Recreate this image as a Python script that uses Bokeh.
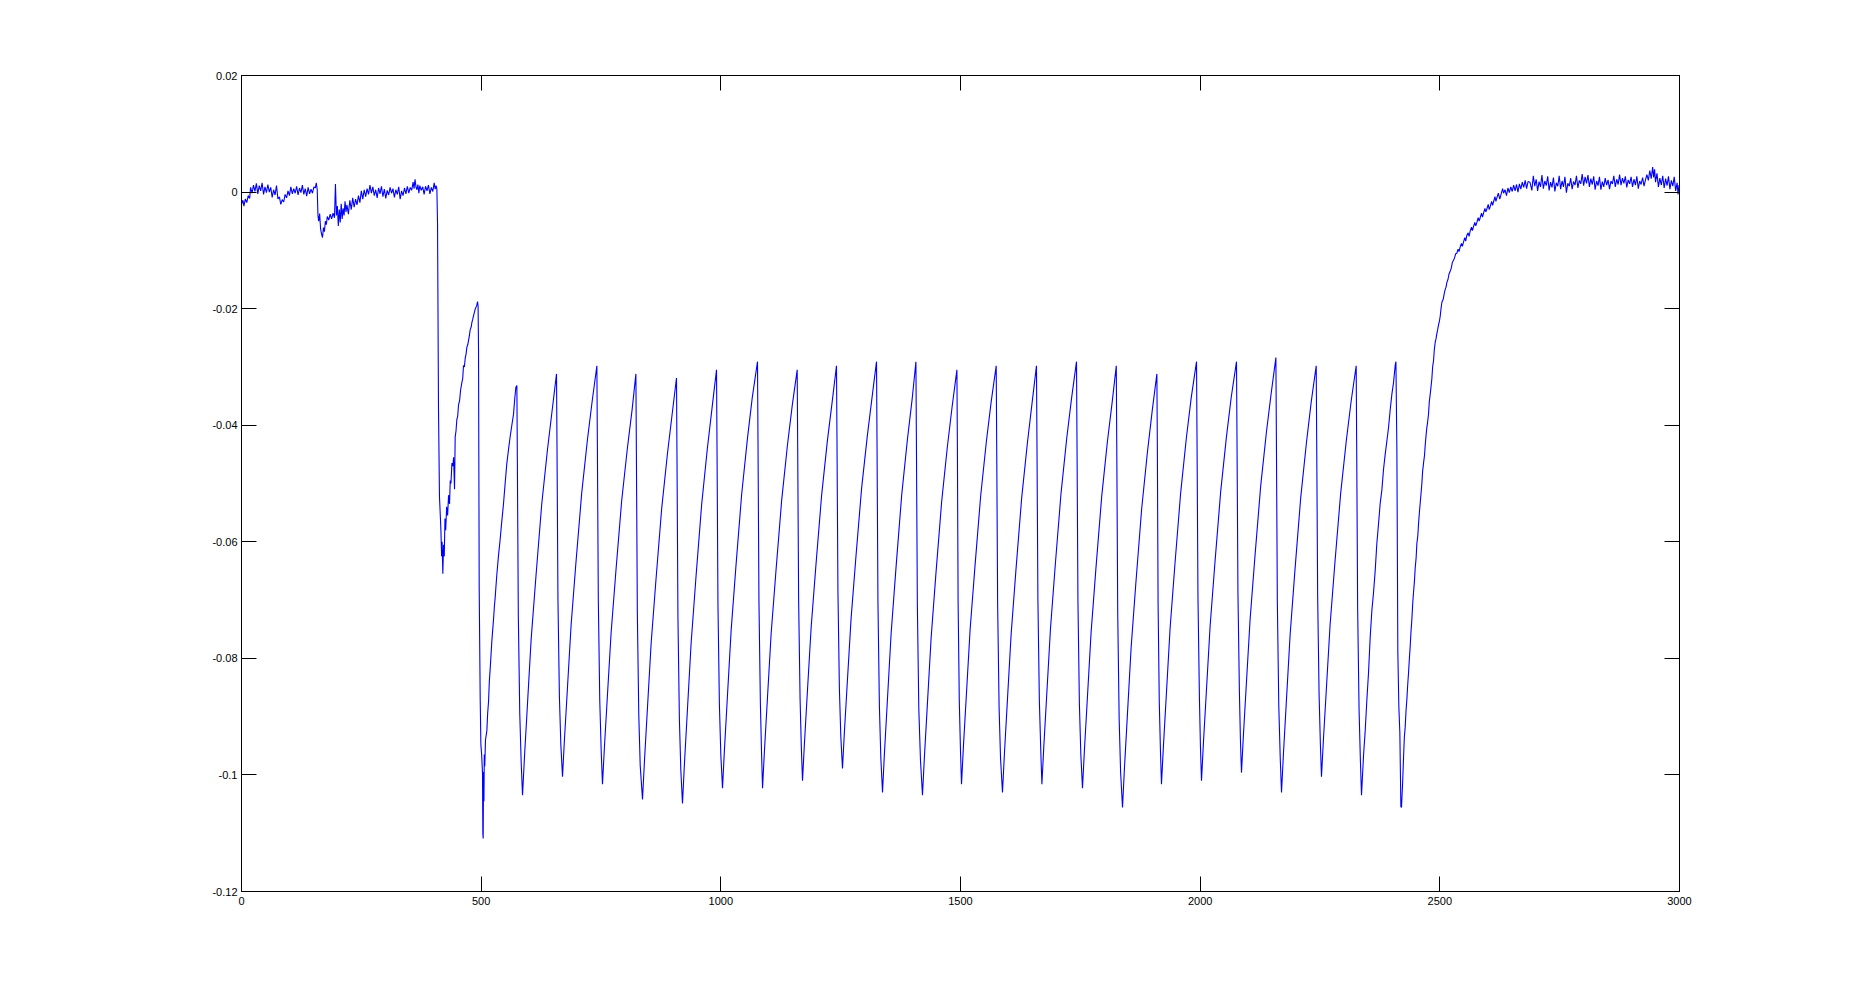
from bokeh.plotting import figure
from bokeh.models import Range1d, FixedTicker, LinearAxis, CustomJSTickFormatter
from bokeh.embed import file_html
from bokeh.resources import INLINE

# ---- data ----
x_ticks = [0, 500, 1000, 1500, 2000, 2500, 3000]
y_ticks = [-0.12, -0.1, -0.08, -0.06, -0.04, -0.02, 0, 0.02]

# baseline before the stimulation (noisy, with a small dip near x=160)
pre_x = [0, 3, 5, 8, 11, 14, 17, 19, 22, 25, 28, 31, 34, 37, 40, 43, 46, 49, 52, 55, 58, 61, 64, 67, 70, 73, 76, 79,
         82, 85, 88, 91, 94, 97, 100, 103, 106, 109, 112, 115, 118, 121, 124, 127, 130, 133, 136, 139, 142, 145, 148,
         151, 154, 156, 158, 159.5, 161, 163, 165, 167, 169, 171, 173, 175, 177, 179, 182, 185, 188, 191, 194, 196,
         198, 200, 202, 204, 206, 208, 210, 212, 214, 216, 218, 220, 223, 226, 229, 232, 235, 238, 241, 244, 247, 250,
         253, 256, 259, 262, 265, 268, 271, 274, 277, 280, 283, 286, 289, 292, 295, 298, 301, 304, 307, 310, 313, 316,
         319, 322, 325, 328, 331, 334, 337, 340, 343, 346, 349, 352, 355, 358, 360, 362, 364, 366, 368, 370, 372, 375,
         378, 381, 384, 387, 390, 393, 396, 399, 402, 404, 406, 407.6]
pre_y = [-0.0021, -0.0014, -0.0024, -0.0012, -0.0018, -0.0006, -0.0011, 0.0008, -0.0002, 0.0012, 0.0001, 0.0015,
         -0.0003, 0.0011, 0.0002, 0.0016, -0.0004, 0.0009, -0.0001, 0.0013, 0.0000, 0.0008, -0.0009, 0.0004, -0.0005,
         0.0011, -0.0012, -0.0008, -0.0021, -0.0013, -0.0017, -0.0004, -0.0010, 0.0002, -0.0006, 0.0009, -0.0003,
         0.0006, -0.0002, 0.0010, -0.0005, 0.0007, -0.0001, 0.0012, -0.0004, 0.0006, -0.0007, 0.0008, -0.0003, 0.0005,
         -0.0002, 0.0009, 0.0007, 0.0016, 0.0004, -0.0040, -0.0050, -0.0037, -0.0063, -0.0072, -0.0078, -0.0061,
         -0.0068, -0.0050, -0.0056, -0.0042, -0.0048, -0.0038, -0.0046, -0.0036, -0.0044, 0.0014, -0.0040, -0.0024,
         -0.0058, -0.0030, -0.0052, -0.0020, -0.0046, -0.0028, -0.0040, -0.0016, -0.0034, -0.0022, -0.0038, -0.0014,
         -0.0030, -0.0010, -0.0026, -0.0012, -0.0022, -0.0006, -0.0018, 0.0002, -0.0012, 0.0004, -0.0008, 0.0006,
         -0.0004, 0.0012, -0.0002, 0.0009, -0.0006, 0.0004, -0.0010, 0.0007, -0.0003, 0.0010, -0.0008, 0.0005,
         -0.0011, 0.0003, -0.0005, 0.0008, -0.0002, 0.0006, -0.0009, 0.0004, -0.0004, 0.0009, -0.0012, 0.0002,
         -0.0006, 0.0007, -0.0003, 0.0010, -0.0002, 0.0008, 0.0003, 0.0017, 0.0006, 0.0022, 0.0009, 0.0004, 0.0013,
         -0.0002, 0.0011, 0.0003, 0.0009, -0.0004, 0.0010, 0.0002, 0.0012, -0.0003, 0.0008, 0.0001, 0.0016, 0.0005,
         0.0011, 0.0005]

# onset: first drop, first slow recovery hump and the deepest trough
onset_x = [409, 411, 413, 415, 416, 417.5, 418.5, 420, 421.5, 423, 424.5, 426, 428, 430, 432, 434, 435.5, 437, 439,
           441, 442.5, 444.4, 445.8, 447.5, 449.3, 451, 452.8, 455, 457, 459.7, 461.5, 463.2, 465, 466.7, 468.5,
           470.2, 472, 473.6, 475.5, 477.1, 479, 480.6, 482.5, 484.1, 486, 487.5, 489.5, 491, 492.5, 493.6, 494.5,
           495.9, 498, 499.4, 501, 502.8, 503.5, 504.2, 505, 505.8, 506.5, 507.5, 509, 511.9, 513.5, 515.4, 517,
           518.8, 520.5, 522.3, 524, 525.8, 527.5, 529.3, 531, 532.7, 536, 539.7, 543, 546.7, 550, 553.6, 557, 560.6,
           564, 567.5, 570, 572.4, 574.5]
onset_y = [-0.0055, -0.0373, -0.0522, -0.0560, -0.0580, -0.0625, -0.0600, -0.0655, -0.0605, -0.0625, -0.0560,
           -0.0580, -0.0540, -0.0555, -0.0520, -0.0535, -0.0495, -0.0500, -0.0465, -0.0470, -0.0455, -0.0510,
           -0.0420, -0.0410, -0.0390, -0.0385, -0.0365, -0.0358, -0.0340, -0.0327, -0.0320, -0.0297, -0.0300,
           -0.0285, -0.0278, -0.0266, -0.0262, -0.0255, -0.0246, -0.0236, -0.0232, -0.0224, -0.0218, -0.0212,
           -0.0206, -0.0201, -0.0197, -0.0194, -0.0188, -0.0196, -0.0270, -0.0680, -0.0871, -0.0948, -0.0965,
           -0.0997, -0.1100, -0.1109, -0.0995, -0.1045, -0.0965, -0.0985, -0.0940, -0.0924, -0.0895, -0.0874,
           -0.0840, -0.0818, -0.0795, -0.0770, -0.0752, -0.0733, -0.0712, -0.0695, -0.0675, -0.0656, -0.0625,
           -0.0595, -0.0565, -0.0534, -0.0500, -0.0465, -0.0442, -0.0419, -0.0400, -0.0381, -0.0355, -0.0335,
           -0.0332]

# sawtooth: each line = drop from a peak to its trough, then the rise to the next peak
saw_x = [
    575.5, 577.5, 580.5, 583.5, 586.3, 590.3, 596.3, 604.3, 614.3, 626.3, 638.3, 648.3, 657.2,
    658.2, 660.2, 663.2, 666.2, 669.7, 673.7, 679.7, 687.7, 697.7, 709.7, 721.7, 731.7, 741.4,
    742.4, 744.4, 747.4, 750.4, 753.1, 757.1, 763.1, 771.1, 781.1, 793.1, 805.1, 815.1, 822.8,
    823.8, 825.8, 828.8, 831.8, 836.6, 840.6, 846.6, 854.6, 864.6, 876.6, 888.6, 898.6, 907.5,
    908.5, 910.5, 913.5, 916.5, 920.0, 924.0, 930.0, 938.0, 948.0, 960.0, 972.0, 982.0, 991.0,
    992, 994, 997, 1000, 1003.5, 1007.5, 1013.5, 1021.5, 1031.5, 1043.5, 1055.5, 1065.5, 1076.5,
    1077.5, 1079.5, 1082.5, 1085, 1087, 1091, 1097, 1105, 1115, 1127, 1139, 1149, 1159.3,
    1160.3, 1162.3, 1165.3, 1168.0, 1170.4, 1174.4, 1180.4, 1188.4, 1198.4, 1210.4, 1222.4, 1232.4, 1241.3,
    1242.3, 1244.3, 1247.3, 1250.3, 1253.8, 1257.8, 1263.8, 1271.8, 1281.8, 1293.8, 1305.8, 1315.8, 1324.8,
    1325.8, 1327.8, 1330.8, 1333.8, 1337.3, 1341.3, 1347.3, 1355.3, 1365.3, 1377.3, 1389.3, 1399.3, 1407.0,
    1408, 1410, 1413, 1416.5, 1420.7, 1424.7, 1430.7, 1438.7, 1448.7, 1460.7, 1472.7, 1482.7, 1492.5,
    1493.5, 1495.0, 1497.5, 1500.0, 1502.1, 1506.1, 1512.1, 1520.1, 1530.1, 1542.1, 1554.1, 1564.1, 1574.5,
    1575.5, 1577.5, 1580.5, 1583.5, 1587.6, 1591.6, 1597.6, 1605.6, 1615.6, 1627.6, 1639.6, 1649.6, 1658.5,
    1659.5, 1661.5, 1664.5, 1667.5, 1669.8, 1673.8, 1679.8, 1687.8, 1697.8, 1709.8, 1721.8, 1731.8, 1742.0,
    1743, 1745, 1748, 1751, 1754.5, 1758.5, 1764.5, 1772.5, 1782.5, 1794.5, 1806.5, 1816.5, 1825,
    1826, 1828, 1831, 1834, 1838, 1842, 1848, 1856, 1866, 1878, 1890, 1900, 1909.7,
    1910.7, 1912.2, 1914.7, 1917.2, 1919.3, 1923.3, 1929.3, 1937.3, 1947.3, 1959.3, 1971.3, 1981.3, 1992.4,
    1993.4, 1995.4, 1998.4, 2000.6, 2002.8, 2006.8, 2012.8, 2020.8, 2030.8, 2042.8, 2054.8, 2064.8, 2075.8,
    2076.8, 2078.8, 2081.8, 2084.0, 2086.2, 2090.2, 2096.2, 2104.2, 2114.2, 2126.2, 2138.2, 2148.2, 2158.0,
    2159, 2161, 2164, 2167, 2169.7, 2173.7, 2179.7, 2187.7, 2197.7, 2209.7, 2221.7, 2231.7, 2242.1,
    2243.1, 2245.1, 2248.1, 2250.8, 2253.1, 2257.1, 2263.1, 2271.1, 2281.1, 2293.1, 2305.1, 2315.1, 2325.5,
    2326.5, 2328.5, 2331.5, 2334.3, 2336.6, 2340.8, 2344.3, 2347.8, 2351.2, 2354.7, 2358.2, 2361.7, 2365.2,
    2368.6, 2372.1, 2375.6, 2379.1, 2382.5, 2386.0, 2389.5, 2393.0, 2396.5, 2399.9, 2403.4, 2406.9, 2408.4,
    2410.4, 2412.4, 2414.5, 2416.6, 2418.7, 2420.0,
]
saw_y = [
    -0.0459, -0.0726, -0.0894, -0.0979, -0.1035, -0.0970, -0.0883, -0.0767, -0.0659, -0.0536, -0.0442, -0.0373, -0.0312,
    -0.0436, -0.0699, -0.0865, -0.0948, -0.1003, -0.0940, -0.0855, -0.0742, -0.0636, -0.0517, -0.0425, -0.0358, -0.0298,
    -0.0427, -0.0700, -0.0872, -0.0959, -0.1016, -0.0953, -0.0868, -0.0756, -0.0650, -0.0530, -0.0439, -0.0372, -0.0312,
    -0.0443, -0.0721, -0.0896, -0.0984, -0.1042, -0.0977, -0.0890, -0.0774, -0.0666, -0.0543, -0.0449, -0.0380, -0.0319,
    -0.0450, -0.0728, -0.0903, -0.0991, -0.1049, -0.0982, -0.0893, -0.0774, -0.0662, -0.0536, -0.0439, -0.0368, -0.0305,
    -0.0434, -0.0707, -0.0879, -0.0966, -0.1023, -0.0957, -0.0869, -0.0752, -0.0642, -0.0518, -0.0423, -0.0353, -0.0291,
    -0.0423, -0.0701, -0.0877, -0.0964, -0.1023, -0.0958, -0.0872, -0.0757, -0.0650, -0.0528, -0.0434, -0.0366, -0.0305,
    -0.0432, -0.0700, -0.0869, -0.0954, -0.1010, -0.0946, -0.0860, -0.0747, -0.0640, -0.0519, -0.0426, -0.0359, -0.0298,
    -0.0422, -0.0685, -0.0851, -0.0934, -0.0989, -0.0926, -0.0842, -0.0731, -0.0626, -0.0507, -0.0417, -0.0350, -0.0291,
    -0.0424, -0.0705, -0.0882, -0.0971, -0.1030, -0.0963, -0.0875, -0.0757, -0.0646, -0.0520, -0.0424, -0.0354, -0.0291,
    -0.0425, -0.0708, -0.0886, -0.0975, -0.1035, -0.0969, -0.0882, -0.0765, -0.0655, -0.0531, -0.0436, -0.0367, -0.0305,
    -0.0433, -0.0703, -0.0874, -0.0959, -0.1016, -0.0951, -0.0865, -0.0750, -0.0643, -0.0521, -0.0427, -0.0359, -0.0298,
    -0.0430, -0.0708, -0.0884, -0.0971, -0.1030, -0.0964, -0.0876, -0.0759, -0.0649, -0.0525, -0.0430, -0.0360, -0.0298,
    -0.0427, -0.0700, -0.0872, -0.0959, -0.1016, -0.0951, -0.0864, -0.0748, -0.0639, -0.0516, -0.0421, -0.0353, -0.0291,
    -0.0423, -0.0701, -0.0877, -0.0964, -0.1023, -0.0958, -0.0871, -0.0755, -0.0646, -0.0523, -0.0428, -0.0360, -0.0298,
    -0.0434, -0.0722, -0.0904, -0.0995, -0.1056, -0.0989, -0.0900, -0.0781, -0.0669, -0.0543, -0.0446, -0.0375, -0.0312,
    -0.0439, -0.0706, -0.0875, -0.0960, -0.1016, -0.0951, -0.0864, -0.0748, -0.0639, -0.0516, -0.0421, -0.0353, -0.0291,
    -0.0420, -0.0694, -0.0866, -0.0952, -0.1010, -0.0945, -0.0859, -0.0744, -0.0636, -0.0514, -0.0420, -0.0352, -0.0291,
    -0.0418, -0.0686, -0.0855, -0.0940, -0.0996, -0.0932, -0.0846, -0.0733, -0.0626, -0.0505, -0.0412, -0.0345, -0.0284,
    -0.0418, -0.0702, -0.0881, -0.0970, -0.1030, -0.0964, -0.0876, -0.0759, -0.0649, -0.0525, -0.0430, -0.0360, -0.0298,
    -0.0425, -0.0693, -0.0862, -0.0947, -0.1003, -0.0940, -0.0855, -0.0742, -0.0636, -0.0517, -0.0425, -0.0358, -0.0298,
    -0.0431, -0.0711, -0.0888, -0.0976, -0.1035, -0.0967, -0.0924, -0.0871, -0.0825, -0.0764, -0.0718, -0.0687, -0.0649,
    -0.0603, -0.0569, -0.0534, -0.0511, -0.0476, -0.0450, -0.0427, -0.0404, -0.0373, -0.0347, -0.0327, -0.0297, -0.0291,
    -0.0442, -0.0790, -0.0883, -0.0928, -0.1054, -0.1056,
]

# recovery after the last trough
recov_x = [2422.2, 2424.3, 2426, 2427.7, 2429.5, 2431.2, 2433, 2434.7, 2436.5, 2438.2, 2440, 2441.6, 2443.5, 2445.1,
           2447, 2448.6, 2450.5, 2452.1, 2454, 2455.6, 2457.5, 2459, 2461, 2462.5, 2464, 2466, 2468, 2469.5, 2471,
           2472.9, 2474.5, 2476.4, 2478, 2479.9, 2481.5, 2483.4, 2485, 2486.9, 2488.5, 2490.3, 2492, 2493.8, 2495.5,
           2497.3, 2499, 2500.8, 2502.5, 2504.3, 2507, 2509, 2511.2, 2513, 2514.7, 2517, 2519, 2521.6, 2524, 2526,
           2528.6, 2531, 2533, 2535.5, 2538, 2540, 2542.5, 2545, 2547, 2549.4, 2552, 2554, 2556.4, 2559, 2561, 2563.3,
           2566, 2568, 2570.3, 2573, 2575, 2577.3, 2580, 2582, 2584.2, 2587, 2589, 2591.2, 2594, 2596, 2598.1, 2601,
           2603, 2605.1, 2608, 2610, 2612, 2615, 2617, 2619, 2622, 2625, 2628, 2631, 2633, 2636, 2639, 2642, 2645,
           2648, 2651, 2654, 2657, 2660, 2663, 2666, 2669, 2672, 2675, 2678, 2681, 2684]
recov_y = [-0.1017, -0.0970, -0.0935, -0.0918, -0.0890, -0.0871, -0.0845, -0.0825, -0.0800, -0.0779, -0.0752,
           -0.0734, -0.0705, -0.0687, -0.0668, -0.0645, -0.0628, -0.0603, -0.0590, -0.0569, -0.0548, -0.0534,
           -0.0515, -0.0500, -0.0480, -0.0465, -0.0452, -0.0434, -0.0420, -0.0404, -0.0395, -0.0381, -0.0360,
           -0.0347, -0.0335, -0.0320, -0.0300, -0.0289, -0.0270, -0.0258, -0.0252, -0.0243, -0.0236, -0.0228,
           -0.0222, -0.0213, -0.0200, -0.0189, -0.0184, -0.0175, -0.0167, -0.0163, -0.0155, -0.0150, -0.0141,
           -0.0136, -0.0130, -0.0121, -0.0117, -0.0112, -0.0106, -0.0105, -0.0098, -0.0102, -0.0094, -0.0088,
           -0.0093, -0.0086, -0.0078, -0.0084, -0.0074, -0.0070, -0.0076, -0.0067, -0.0060, -0.0066, -0.0059,
           -0.0052, -0.0058, -0.0052, -0.0044, -0.0050, -0.0044, -0.0036, -0.0043, -0.0036, -0.0028, -0.0034,
           -0.0029, -0.0021, -0.0030, -0.0025, -0.0016, -0.0023, -0.0017, -0.0008, -0.0016, -0.0010, -0.0002,
           -0.0012, -0.0003, 0.0006, -0.0002, 0.0004, -0.0006, 0.0007, -0.0001, 0.0009, 0.0001, 0.0012, 0.0002,
           0.0013, 0.0000, 0.0014, 0.0005, 0.0017, 0.0008, 0.0020, 0.0006, 0.0018]

# final plateau
post_x = [2688, 2692, 2695, 2698, 2701, 2704, 2707, 2710, 2713, 2716, 2719, 2722, 2725, 2728, 2731, 2734, 2737,
          2740, 2743, 2746, 2749, 2752, 2755, 2758, 2761, 2764, 2767, 2770, 2773, 2776, 2779, 2782, 2785, 2788,
          2791, 2794, 2797, 2800, 2803, 2806, 2809, 2812, 2815, 2818, 2821, 2824, 2827, 2830, 2833, 2836, 2839,
          2842, 2845, 2848, 2851, 2854, 2857, 2860, 2863, 2866, 2869, 2872, 2875, 2878, 2881, 2884, 2887, 2890,
          2893, 2896, 2899, 2902, 2905, 2908, 2911, 2914, 2917, 2920, 2923, 2926, 2929, 2932, 2935, 2938, 2941,
          2944, 2946, 2948, 2950, 2953, 2956, 2959, 2962, 2965, 2968, 2971, 2974, 2977, 2980, 2983, 2986, 2989,
          2992, 2995, 2997, 2999, 3000]
post_y = [0.0017, 0.0003, 0.0028, 0.0010, 0.0022, 0.0002, 0.0018, 0.0009, 0.0029, 0.0006, 0.0019, 0.0011, 0.0027,
          0.0003, 0.0017, 0.0008, 0.0025, 0.0001, 0.0016, 0.0010, 0.0028, 0.0005, 0.0019, 0.0009, 0.0026, -0.0001,
          0.0015, 0.0010, 0.0024, 0.0005, 0.0018, 0.0012, 0.0028, 0.0007, 0.0020, 0.0014, 0.0031, 0.0011, 0.0026,
          0.0015, 0.0029, 0.0009, 0.0023, 0.0013, 0.0027, 0.0004, 0.0019, 0.0011, 0.0026, 0.0004, 0.0018, 0.0009,
          0.0024, 0.0012, 0.0021, 0.0005, 0.0019, 0.0014, 0.0028, 0.0009, 0.0022, 0.0013, 0.0030, 0.0012, 0.0024,
          0.0015, 0.0027, 0.0008, 0.0021, 0.0014, 0.0026, 0.0009, 0.0022, 0.0012, 0.0027, 0.0006, 0.0019, 0.0013,
          0.0025, 0.0010, 0.0021, 0.0030, 0.0020, 0.0037, 0.0023, 0.0043, 0.0025, 0.0039, 0.0017, 0.0032, 0.0009,
          0.0024, 0.0012, 0.0028, 0.0007, 0.0023, 0.0011, 0.0027, 0.0005, 0.0020, 0.0010, 0.0026, 0.0002, 0.0016,
          -0.0004, 0.0012, 0.0008]

xs = pre_x + onset_x + saw_x + recov_x + post_x
ys = pre_y + onset_y + saw_y + recov_y + post_y

# ---- figure ----
p = figure(frame_width=1438, frame_height=816,
           x_range=Range1d(0, 3000), y_range=Range1d(-0.12, 0.02),
           output_backend="svg", toolbar_location=None,
           min_border_left=241, min_border_top=75, min_border_right=150, min_border_bottom=95,
           background_fill_color="white", border_fill_color="white")
p.xgrid.visible = False
p.ygrid.visible = False
p.outline_line_color = "black"
p.outline_line_alpha = 1.0
p.outline_line_width = 1

p.line(xs, ys, line_color="#0000ff", line_width=1.1)

fmt_code = "return (Math.round(tick*100)/100).toString();"


def style_axis(ax, ticks, show_labels=True):
    ax.ticker = FixedTicker(ticks=ticks)
    ax.major_tick_in = 15
    ax.major_tick_out = 0
    ax.minor_tick_line_color = None
    ax.axis_line_color = "black"
    ax.major_tick_line_color = "black"
    ax.major_label_text_font = "Liberation Sans"
    ax.major_label_text_font_size = "11px"
    ax.major_label_text_color = "black" if show_labels else None
    ax.major_label_standoff = 5
    ax.formatter = CustomJSTickFormatter(code=fmt_code)


style_axis(p.xaxis[0], x_ticks)
style_axis(p.yaxis[0], y_ticks)
p.yaxis[0].major_label_standoff = 4

top_axis = LinearAxis()
style_axis(top_axis, x_ticks, show_labels=False)
p.add_layout(top_axis, "above")
right_axis = LinearAxis()
style_axis(right_axis, y_ticks, show_labels=False)
p.add_layout(right_axis, "right")

open("out.html", "w").write(file_html(p, INLINE))
